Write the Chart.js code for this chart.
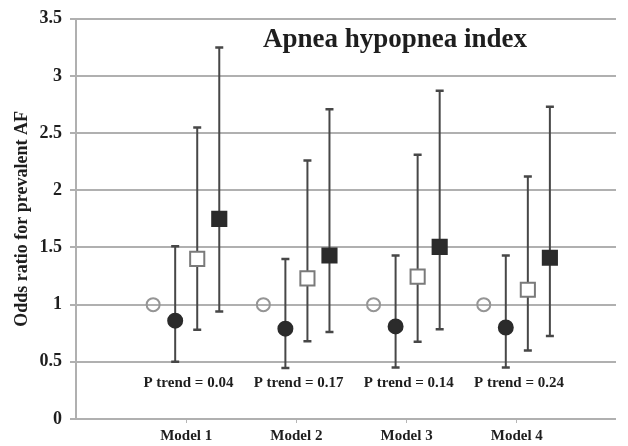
<!DOCTYPE html>
<html>
<head>
<meta charset="utf-8">
<script src="https://cdn.jsdelivr.net/npm/chart.js@4/dist/chart.umd.min.js"></script>
<style>
  html, body { margin: 0; padding: 0; background: #fff; }
  #wrap { width: 628px; height: 446px; }
</style>
</head>
<body>
<div id="wrap"><canvas id="c" width="628" height="446"></canvas></div>
<script>
// Models on the x axis
const models = ['Model 1', 'Model 2', 'Model 3', 'Model 4'];
const pTrend = ['P trend = 0.04', 'P trend = 0.17', 'P trend = 0.14', 'P trend = 0.24'];

// Odds ratios with 95% confidence limits per AHI category
const refOR = [1, 1, 1, 1];
const q2OR = [0.86, 0.79, 0.81, 0.80];
const q2Lo = [0.50, 0.445, 0.45, 0.45];
const q2Hi = [1.51, 1.40, 1.43, 1.43];
const q3OR = [1.40, 1.23, 1.245, 1.13];
const q3Lo = [0.78, 0.68, 0.675, 0.60];
const q3Hi = [2.55, 2.26, 2.31, 2.12];
const q4OR = [1.75, 1.43, 1.505, 1.41];
const q4Lo = [0.94, 0.76, 0.786, 0.725];
const q4Hi = [3.25, 2.71, 2.87, 2.73];

const yTicks = [0, 0.5, 1, 1.5, 2, 2.5, 3, 3.5];

const serif = '"Liberation Serif", "Times New Roman", serif';
const offsets = [-0.3, -0.1, 0.1, 0.3];

function pts(vals, k) {
  return vals.map((v, i) => ({ x: i + 1 + offsets[k], y: v }));
}

const series = [
  { data: pts(refOR, 0), lo: null, hi: null, style: 'circle', radius: 6.5, bg: 'rgba(0,0,0,0)', border: '#959595' },
  { data: pts(q2OR, 1), lo: q2Lo, hi: q2Hi, style: 'circle', radius: 7, bg: '#2b2b2b', border: '#2b2b2b' },
  { data: pts(q3OR, 2), lo: q3Lo, hi: q3Hi, style: 'rect', radius: 10, bg: '#ffffff', border: '#7a7a7a' },
  { data: pts(q4OR, 3), lo: q4Lo, hi: q4Hi, style: 'rect', radius: 10, bg: '#2b2b2b', border: '#2b2b2b' }
];

// Vertical confidence-interval whiskers, drawn under the markers
const errorBars = {
  id: 'errorBars',
  beforeDatasetsDraw(chart) {
    const ctx = chart.ctx;
    const xs = chart.scales.x, ys = chart.scales.y;
    ctx.save();
    ctx.strokeStyle = '#474747';
    ctx.lineWidth = 2;
    series.forEach(s => {
      if (!s.lo) return;
      s.data.forEach((p, i) => {
        const x = xs.getPixelForValue(p.x);
        const yl = ys.getPixelForValue(s.lo[i]);
        const yh = ys.getPixelForValue(s.hi[i]);
        ctx.beginPath();
        ctx.moveTo(x, yl); ctx.lineTo(x, yh);
        ctx.stroke();
        ctx.lineWidth = 2.5;
        ctx.beginPath();
        ctx.moveTo(x - 4, yl); ctx.lineTo(x + 4, yl);
        ctx.moveTo(x - 4, yh); ctx.lineTo(x + 4, yh);
        ctx.stroke();
        ctx.lineWidth = 2;
      });
    });
    ctx.restore();
  }
};

// Chart heading and P-trend notes inside the plot area
const notes = {
  id: 'notes',
  afterDatasetsDraw(chart) {
    const ctx = chart.ctx;
    const xs = chart.scales.x, ys = chart.scales.y;
    ctx.save();
    ctx.fillStyle = '#1e1e1e';
    ctx.textAlign = 'center';
    ctx.textBaseline = 'middle';
    ctx.font = 'bold 15px ' + serif;
    pTrend.forEach((t, i) => {
      ctx.fillText(t, xs.getPixelForValue(i + 1.02), ys.getPixelForValue(0.31));
    });
    ctx.font = 'bold 27px ' + serif;
    ctx.fillText('Apnea hypopnea index', 395, 40);
    ctx.restore();
  }
};

new Chart(document.getElementById('c'), {
  type: 'scatter',
  data: {
    datasets: series.map(s => ({
      data: s.data,
      pointStyle: s.style,
      pointRadius: s.radius,
      pointHoverRadius: s.radius,
      pointBackgroundColor: s.bg,
      pointBorderColor: s.border,
      pointBorderWidth: 2,
      showLine: false
    }))
  },
  options: {
    responsive: false,
    animation: false,
    events: [],
    layout: { padding: { top: 15, right: 6, left: 0, bottom: 0 } },
    plugins: { legend: { display: false }, tooltip: { enabled: false } },
    scales: {
      x: {
        type: 'linear',
        min: 0,
        max: 4.9,
        afterBuildTicks(scale) { scale.ticks = models.map((m, i) => ({ value: i + 1 })); },
        afterFit(scale) { scale.height = 27; },
        grid: { drawOnChartArea: false, drawTicks: true, tickLength: 4, color: '#b5b5b5', lineWidth: 1 },
        border: { display: false },
        ticks: {
          autoSkip: false,
          maxRotation: 0,
          padding: 4,
          color: '#1e1e1e',
          font: { family: serif, size: 15, weight: 'bold' },
          callback: (v) => models[Math.round(v) - 1] || ''
        }
      },
      y: {
        min: 0,
        max: 3.5,
        afterBuildTicks(scale) { scale.ticks = yTicks.map(v => ({ value: v })); },
        afterFit(scale) { scale.width = 76; },
        grid: { color: '#b0b0b0', lineWidth: 2, tickLength: 6 },
        border: { display: true, color: '#b0b0b0', width: 2 },
        ticks: {
          padding: 8,
          color: '#1e1e1e',
          font: { family: serif, size: 18, weight: 'bold' },
          callback: (v) => String(v)
        },
        title: {
          display: true,
          text: 'Odds ratio for prevalent AF',
          color: '#1e1e1e',
          font: { family: serif, size: 18, weight: 'bold' },
          padding: { top: 12, bottom: 0 }
        }
      }
    }
  },
  plugins: [errorBars, notes]
});
</script>
</body>
</html>
